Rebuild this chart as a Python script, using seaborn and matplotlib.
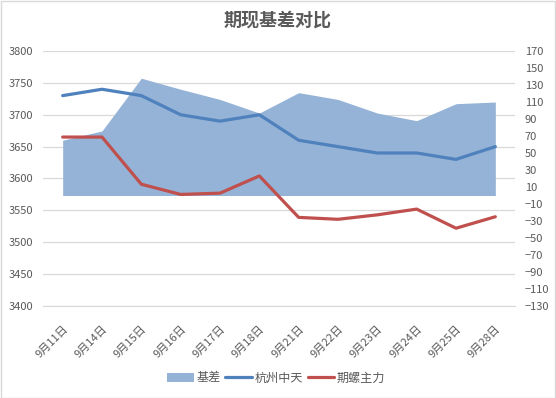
import numpy as np
import pandas as pd
import matplotlib
matplotlib.use("Agg")
import matplotlib.pyplot as plt
from matplotlib.patches import Rectangle, Patch
from matplotlib.lines import Line2D
import seaborn as sns

dates = ["9月11日", "9月14日", "9月15日", "9月16日", "9月17日", "9月18日",
         "9月21日", "9月22日", "9月23日", "9月24日", "9月25日", "9月28日"]
spot = [3730, 3740, 3730, 3700, 3690, 3700, 3660, 3650, 3640, 3640, 3630, 3650]      # 杭州中天
futures = [3665, 3665, 3591, 3575, 3577, 3604, 3539, 3536, 3543, 3552, 3522, 3540]   # 期螺主力
basis = [65, 76, 138, 125, 113, 97, 121, 113, 97, 88, 108, 110]                      # 基差

sns.set_style("white")
plt.rcParams["font.family"] = ["Noto Sans CJK SC", "DejaVu Sans"]

C_AREA = "#95B3D7"
C_BLUE = "#4F81BD"
C_RED = "#C0504D"
C_GRID = "#D9D9D9"
C_TEXT = "#595959"

df = pd.DataFrame({"pos": np.arange(len(dates)), "spot": spot, "futures": futures, "basis": basis})

fig = plt.figure(figsize=(5.56, 3.98), dpi=100)
ax = fig.add_axes([43/556, 1-306/398, (515-43)/556, (306-51)/398])
ax2 = ax.twinx()
ax3 = ax.twinx()

# left axis: grid + labels
ax.set_ylim(3400, 3800)
ax.set_yticks(np.arange(3400, 3801, 50))
ax.grid(axis="y", color=C_GRID, linewidth=0.9)
ax.set_axisbelow(True)
ax.tick_params(axis="y", length=0, labelsize=8, labelcolor=C_TEXT, pad=7)

# right axis: basis area
ax2.fill_between(df["pos"], 0, df["basis"], color=C_AREA, linewidth=0, zorder=1)
ax2.set_ylim(-130, 170)
ax2.set_yticks(np.arange(-130, 171, 20))
ax2.tick_params(axis="y", length=0, labelsize=8, labelcolor=C_TEXT, pad=7)

# lines on left scale, on top
sns.lineplot(data=df, x="pos", y="spot", ax=ax3, color=C_BLUE, linewidth=2.3)
sns.lineplot(data=df, x="pos", y="futures", ax=ax3, color=C_RED, linewidth=2.3)
ax3.set_ylim(3400, 3800)
ax3.set_yticks([])

for a in (ax, ax2, ax3):
    a.set_xlim(-0.5, len(dates) - 0.5)
    for s in ("left", "right", "top", "bottom"):
        a.spines[s].set_visible(False)
    a.set_ylabel("")
    a.set_xlabel("")
ax.spines["bottom"].set_visible(True)
ax.spines["bottom"].set_color(C_GRID)

ax.set_xticks(df["pos"])
ax.set_xticklabels(dates, rotation=45, ha="right", rotation_mode="anchor",
                   fontsize=8, color=C_TEXT)
ax.set_xticks(np.arange(-0.5, len(dates), 1), minor=True)
ax.tick_params(axis="x", which="major", length=0, pad=13)
ax.tick_params(axis="x", which="minor", length=5, color=C_GRID, width=0.9)
for a in (ax2, ax3):
    a.tick_params(axis="x", which="both", length=0, labelbottom=False)

fig.text(0.5, 1-20/398, "期现基差对比", ha="center", va="center",
         fontsize=13, fontweight="bold", color=C_TEXT)

handles = [Patch(facecolor=C_AREA, edgecolor="none"),
           Line2D([], [], color=C_BLUE, linewidth=2.3),
           Line2D([], [], color=C_RED, linewidth=2.3)]
fig.legend(handles, ["基差", "杭州中天", "期螺主力"], loc="center", ncol=3,
           bbox_to_anchor=(0.497, 1-378/398), frameon=False, fontsize=8.7,
           handlelength=2.2, handletextpad=0.2, columnspacing=0.4,
           labelcolor=C_TEXT)

fig.patches.append(Rectangle((0.001, 0.001), 0.997, 0.997, transform=fig.transFigure,
                             fill=False, edgecolor=C_GRID, linewidth=1))

fig.savefig("out.png", dpi=100)
